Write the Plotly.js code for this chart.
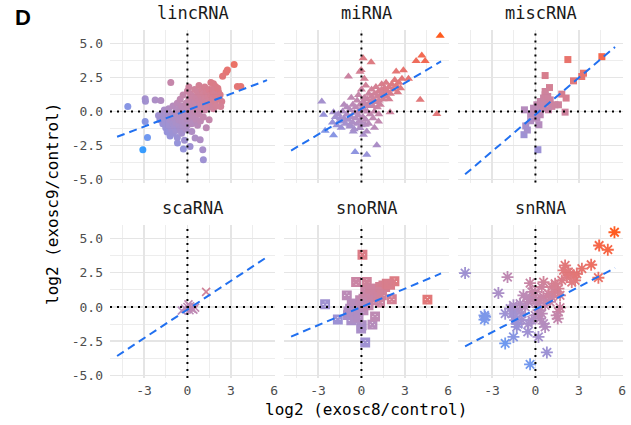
<!DOCTYPE html>
<html>
<head>
<meta charset="utf-8">
<script src="https://cdn.plot.ly/plotly-3.0.1.min.js"></script>
<style>html,body{margin:0;padding:0;background:#fff;}#chart{width:631px;height:425px;}</style>
</head>
<body>
<div id="chart"></div>
<script>
// ---------------- DATA ----------------
const panelNames = ["lincRNA", "miRNA", "miscRNA", "scaRNA", "snoRNA", "snRNA"];
const xTickVals = [-3, 0, 3, 6];
const xTickText = ["-3", "0", "3", "6"];
const yTickVals = [-5, -2.5, 0, 2.5, 5];
const yTickText = ["-5.0", "-2.5", "0.0", "2.5", "5.0"];
const xTitle = "log2 (exosc8/control)";
const yTitle = "log2 (exosc9/control)";
const panelLabel = "D";

const lincX = [-4.12,-3.08,-2.76,-2.92,-2.92,-2.9,-2.23,-1.84,-1.15,3.23,2.76,2.67,2.43,3.45,3.69,1.62,1.8,1.94,2.14,2.26,2.37,2.3,0.3,0.53,0.88,1.06,1.1,-0.69,-0.28,0.18,
 -2.0,-1.9,-1.8,-1.7,-1.6,-1.6,-1.5,-1.5,-1.4,-1.4,-1.3,-1.3,-1.2,-1.2,-1.1,-1.1,-1.0,-1.0,-1.0,-0.9,-0.9,-0.8,-0.8,-0.8,-0.7,-0.7,-0.7,-0.6,-0.6,-0.6,-0.5,-0.5,-0.5,-0.4,-0.4,-0.4,-0.3,-0.3,-0.3,-0.2,-0.2,-0.2,-0.1,-0.1,-0.1,0.0,0.0,0.0,0.0,
 0.1,0.1,0.1,0.2,0.2,0.2,0.3,0.3,0.3,0.4,0.4,0.4,0.5,0.5,0.5,0.6,0.6,0.6,0.7,0.7,0.7,0.8,0.8,0.8,0.9,0.9,0.9,1.0,1.0,1.0,1.1,1.1,1.1,1.2,1.2,1.2,1.3,1.3,1.3,1.4,1.4,1.5,1.5,1.5,1.6,1.6,1.7,1.7,1.8,1.8,1.9,2.0,2.0,2.1,2.2];
const lincY = [0.37,-2.8,-1.9,-0.73,0.93,0.74,0.84,0.8,2.12,3.43,3.04,2.87,2.58,1.83,1.83,2.12,2.02,1.83,1.46,1.22,0.73,0.37,-1.46,-1.94,-2.07,-2.8,-3.53,-2.3,-2.75,-2.56,
 -0.3,-0.6,-0.2,-0.9,-0.5,0.1,-1.2,-0.8,-0.3,-1.5,-1.0,0.2,-0.6,-1.8,-1.3,-0.2,-0.9,0.4,-1.6,-0.5,-1.1,0.0,-1.4,-0.8,-0.3,0.6,-1.9,-1.0,-0.6,0.2,-1.3,-0.1,0.9,-0.7,-1.6,0.4,-0.4,-1.1,1.2,0.1,-0.8,-2.1,0.6,-0.3,-1.3,1.5,0.3,-0.6,-1.0,
 0.9,-0.1,1.8,0.5,-0.5,1.3,0.1,0.8,-0.9,1.1,0.4,-0.3,1.6,0.7,0.0,1.0,-0.6,0.4,1.4,0.2,-1.0,0.8,1.9,-0.2,0.5,1.2,-0.7,1.6,0.2,0.9,1.3,-0.4,0.6,1.0,0.1,1.8,0.7,-1.2,1.4,0.3,1.1,0.8,1.6,-0.6,1.2,0.4,0.9,1.6,0.2,1.3,0.7,1.1,0.4,1.7,0.9];

const miX = [5.44,4.17,3.78,4.4,2.9,2.4,3.25,4.06,5.21,1.98,1.18,0.67,0.12,-0.02,-0.9,-2.74,-2.62,-1.93,-1.93,-2.51,-0.44,0.37,1.06,0.26,0.37,0.14,-0.1,-0.56,-0.79,-1.24,-1.47,
 -2.0,-1.8,-1.7,-1.6,-1.5,-1.4,-1.3,-1.2,-1.1,-1.0,-1.0,-0.9,-0.8,-0.8,-0.7,-0.6,-0.6,-0.5,-0.5,-0.4,-0.4,-0.3,-0.3,-0.2,-0.2,-0.2,-0.1,-0.1,0.0,0.0,0.0,0.1,0.1,0.2,0.2,0.3,0.3,0.3,0.4,0.4,0.5,0.5,0.6,0.6,0.7,0.7,0.8,0.8,0.9,0.9,1.0,1.0,1.1,1.1,1.2,1.2,1.3,1.3,1.4,1.4,1.5,1.5,1.6,1.7,1.7,1.8,1.9,1.9,2.0,2.1,2.2,2.3,2.4,2.5,2.6,2.7,2.8,0.2,-0.1,0.5,0.8,1.2,0.9,-1.2,-0.7];
const miY = [5.55,4.09,3.7,3.7,3.02,2.92,2.39,0.85,-0.19,-0.05,-0.73,3.6,3.9,3.04,2.56,0.73,-0.24,-0.05,-1.75,-1.41,-2.96,-3.16,-2.48,-0.97,-1.46,-1.7,-1.21,-1.46,-0.97,-0.73,-0.49,
 -0.8,-0.4,-1.0,-0.2,-0.7,-1.2,0.0,-0.5,-0.9,-0.2,0.3,-0.6,-1.1,0.1,-0.4,0.5,-0.8,-0.1,-1.3,0.3,-0.5,0.8,-0.9,0.0,1.2,-0.3,0.5,-0.7,0.2,1.6,-1.0,0.7,-0.4,1.0,0.1,0.5,-0.6,1.9,0.9,0.0,1.3,0.4,0.7,-0.2,1.1,1.6,0.4,0.9,1.3,0.0,0.7,1.8,1.1,0.3,1.5,0.8,1.2,0.5,1.6,2.0,0.9,1.3,1.7,1.1,2.1,1.5,1.8,0.9,1.3,2.0,1.6,2.3,1.9,1.4,2.1,1.7,2.4,2.4,2.9,-0.9,-0.5,-0.2,-1.2,0.5,1.0];

const miscX = [4.59,2.24,3.32,3.2,2.63,0.67,0.97,1.82,2.12,1.59,2.05,-0.76,0.17,-0.79,-0.67,-0.56,-0.33,-0.33,0.24,
 0.1,0.33,0.56,0.67,0.79,1.02,0.44,0.21,0.0,1.13,1.36,0.9,0.56,0.33,0.1,-0.13,0.67,0.85];
const miscY = [4.01,3.8,2.8,2.56,2.24,2.63,1.75,1.27,0.98,0.49,-0.05,0.12,-2.8,-1.7,-1.06,-1.36,-0.68,-0.19,-0.97,
 0.49,0.73,0.98,1.22,0.61,0.85,0.24,0.0,-0.12,0.37,0.49,0.12,0.49,-0.24,-0.49,0.24,1.46,1.1];

const scaX = [1.29,0.0,0.18,0.3,0.41,0.14,-0.16,0.53,0.07,-0.39,0.25];
const scaY = [1.1,0.0,0.05,-0.12,-0.19,-0.24,-0.12,-0.05,0.19,-0.27,-0.07];

const snoX = [0.07,-0.37,0.37,-1.01,-2.51,-1.63,4.56,2.1,2.28,1.98,1.64,1.41,0.26,0.02,-0.02,0.76,0.94,1.29,-0.93,-0.7,-0.47,
 -0.78,-0.55,-0.32,-0.09,0.14,0.37,0.6,0.83,1.06,1.29,1.52,-0.55,-0.2,0.02,0.26,0.49,0.72,0.94,1.17,-0.32,-0.67,-0.09,0.14,0.49,0.83,1.17,-0.9,-0.44,0.26,0.6,1.75,1.41,-0.2];
const snoY = [3.82,1.83,1.83,0.85,0.2,-0.92,0.54,0.56,1.88,1.63,1.46,1.22,-2.6,-1.34,-1.58,-1.29,-0.7,0.32,-0.6,-0.97,-0.85,
 -0.12,0.12,0.24,0.49,0.61,0.85,0.97,1.22,1.34,1.46,1.58,-0.36,-0.24,0.0,0.24,0.49,0.73,0.97,1.1,-0.12,0.24,0.12,-0.24,0.12,0.49,0.73,-0.32,-0.6,1.1,1.34,1.7,0.85,-0.73];

const snX = [5.46,4.4,5.0,-4.86,-1.93,-2.56,-3.52,-3.52,-3.48,-2.09,-1.52,-0.37,0.79,0.21,-0.53,-1.2,4.35,3.85,3.21,
 2.05,2.4,2.63,2.17,1.94,2.74,2.51,2.28,1.82,2.86,1.59,1.54,1.47,1.7,-0.37,-0.25,0.56,0.44,
 -2.09,-1.75,-1.52,-1.29,-1.06,-1.4,-0.94,-0.71,-0.48,-0.14,0.09,0.32,0.56,0.9,1.13,1.36,1.59,0.67,1.01,0.21,-0.02,-0.25,-0.48,-0.94,-1.29,0.32,0.56,0.67,-0.6,-0.02,-0.83,1.13,1.36,1.7,0.44,-1.4,-1.63];
const snY = [5.47,4.5,4.19,2.48,2.19,1.02,-0.61,-0.92,-0.73,-2.67,-2.19,-4.2,-3.33,-2.19,-1.82,-1.26,2.14,3.09,2.8,
 3.04,2.43,2.31,2.19,2.68,1.94,1.82,2.56,1.94,2.43,-0.36,-0.85,-0.61,-0.05,1.75,1.1,1.82,1.46,
 -0.49,-0.12,0.12,-0.24,0.24,-0.73,-0.49,0.0,0.37,0.61,0.24,0.49,0.73,0.97,0.73,1.1,1.34,0.12,0.37,-0.24,-0.61,-0.97,-1.22,-0.97,-1.46,-0.85,-1.22,-1.46,0.73,1.1,0.85,1.46,1.7,0.85,-0.49,-0.97,-0.49];

// fitted lm lines: slope, intercept per panel, common x span
const fitSlope = [0.40, 0.63, 0.90, 0.70, 0.446, 0.553];
const fitIntercept = [0.09, 0.20, -0.23, -0.19, 0.0, -0.19];
const fitXSpan = [-4.86, 5.5];

// ---------------- STYLE ----------------
const seriesX = [lincX, miX, miscX, scaX, snoX, snX];
const seriesY = [lincY, miY, miscY, scaY, snoY, snY];
const symbols = ["circle", "triangle-up", "square", "x-thin-open", "square-x-open", "asterisk-open"];
const sizes = [7, 8, 7, 8, 7.5, 10];
const lineW = [0, 0, 0, 1.6, 2.4, 1.8];

// Lab-interpolated colour scale (dodgerblue -> orangered)
function s2l(c){c/=255;return c<=0.04045?c/12.92:Math.pow((c+0.055)/1.055,2.4);}
function l2s(c){c=c<=0.0031308?12.92*c:1.055*Math.pow(c,1/2.4)-0.055;return Math.round(Math.max(0,Math.min(1,c))*255);}
function rgb2lab(r,g,b){const R=s2l(r),G=s2l(g),B=s2l(b);
 const X=(0.4124*R+0.3576*G+0.1805*B)/0.95047,Y=(0.2126*R+0.7152*G+0.0722*B),Z=(0.0193*R+0.1192*G+0.9505*B)/1.08883;
 const f=t=>t>0.008856?Math.cbrt(t):(7.787*t+16/116);
 return [116*f(Y)-16,500*(f(X)-f(Y)),200*(f(Y)-f(Z))];}
function lab2rgb(L,a,b){const fy=(L+16)/116,fx=fy+a/500,fz=fy-b/200;
 const fi=t=>{const t3=t*t*t;return t3>0.008856?t3:(t-16/116)/7.787;};
 const X=0.95047*fi(fx),Y=fi(fy),Z=1.08883*fi(fz);
 return [l2s(3.2406*X-1.5372*Y-0.4986*Z),l2s(-0.9689*X+1.8758*Y+0.0415*Z),l2s(0.0557*X-0.2040*Y+1.0570*Z)];}
const lowLab = rgb2lab(30,144,255), highLab = rgb2lab(255,69,0);
const cscale = [];
for (let i=0;i<=20;i++){const t=i/20;
 const c=lab2rgb(lowLab[0]+(highLab[0]-lowLab[0])*t,lowLab[1]+(highLab[1]-lowLab[1])*t,lowLab[2]+(highLab[2]-lowLab[2])*t);
 cscale.push([t,`rgb(${c[0]},${c[1]},${c[2]})`]);}

const colorVals = seriesX.map((xs,i)=>xs.map((x,j)=>(x+seriesY[i][j])/2));
const allC = colorVals.flat();
const cmin = Math.min(...allC), cmax = Math.max(...allC);

const W=631,H=425;
const colL=[110,284,458], colW=165;
const rowT=[29.5,225], rowH=153;
const mono="DejaVu Sans Mono";

const traces=[]; const layout={
 width:W,height:H,margin:{l:0,r:0,t:0,b:0},paper_bgcolor:"#fff",plot_bgcolor:"#fff",
 showlegend:false,hovermode:false,shapes:[],annotations:[]};

for (let p=0;p<6;p++){
 const r=Math.floor(p/3), c=p%3; const s=p===0?"":String(p+1);
 layout["xaxis"+s]={domain:[colL[c]/W,(colL[c]+colW)/W],range:[-5.35,6.05],anchor:"y"+s,
  tickvals:xTickVals,ticktext:xTickText,showticklabels:r===1,ticks:"",zeroline:false,showline:false,
  showgrid:true,gridcolor:"#E5E5E5",gridwidth:1.3,ticklabelstandoff:3,
  tickfont:{family:mono,size:13,color:"#4D4D4D"},
  minor:{tickvals:[-4.5,-1.5,1.5,4.5],showgrid:true,gridcolor:"#EDEDED",gridwidth:1}};
 layout["yaxis"+s]={domain:[1-(rowT[r]+rowH)/H,1-rowT[r]/H],range:[-5.2,6.0],anchor:"x"+s,
  tickvals:yTickVals,ticktext:yTickText,showticklabels:c===0,ticks:"",zeroline:false,showline:false,
  showgrid:true,gridcolor:"#E5E5E5",gridwidth:1.3,ticklabelstandoff:6,
  tickfont:{family:mono,size:13,color:"#4D4D4D"},
  minor:{tickvals:[-3.75,-1.25,1.25,3.75],showgrid:true,gridcolor:"#EDEDED",gridwidth:1}};
 traces.push({type:"scatter",mode:"markers",x:seriesX[p],y:seriesY[p],xaxis:"x"+s,yaxis:"y"+s,
  opacity:0.88,
  marker:{symbol:symbols[p],size:sizes[p],color:colorVals[p],colorscale:cscale,cmin:cmin,cmax:cmax,
   line:{width:lineW[p]},showscale:false}});
 const fx=[fitXSpan[0],fitXSpan[1]];
 traces.push({type:"scatter",mode:"lines",x:fx,y:fx.map(v=>fitIntercept[p]+fitSlope[p]*v),xaxis:"x"+s,yaxis:"y"+s,
  line:{color:"#2170F0",width:2,dash:"8px,5px"}});
 layout.shapes.push({type:"line",layer:"above",xref:"x"+s,yref:"y"+s+" domain",x0:0,x1:0,y0:0,y1:1,
  line:{color:"#000",width:2,dash:"2px,5px"}});
 layout.shapes.push({type:"line",layer:"above",xref:"x"+s+" domain",yref:"y"+s,x0:0,x1:1,y0:0,y1:0,
  line:{color:"#000",width:2,dash:"2px,5px"}});
 layout.annotations.push({text:panelNames[p],xref:"paper",yref:"paper",x:(colL[c]+colW/2)/W,
  y:1-(r===0?13:208)/H,xanchor:"center",yanchor:"middle",showarrow:false,
  font:{family:mono,size:17,color:"#1A1A1A"}});
}
layout.annotations.push({text:xTitle,xref:"paper",yref:"paper",x:366/W,y:1-409/H,xanchor:"center",yanchor:"middle",
 showarrow:false,font:{family:mono,size:16,color:"#000"}});
layout.annotations.push({text:yTitle,xref:"paper",yref:"paper",x:52/W,y:1-204/H,xanchor:"center",yanchor:"middle",
 textangle:-90,showarrow:false,font:{family:mono,size:16,color:"#000"}});
layout.annotations.push({text:"<b>"+panelLabel+"</b>",xref:"paper",yref:"paper",x:23/W,y:1-17/H,xanchor:"center",yanchor:"middle",
 showarrow:false,font:{family:"Liberation Sans",size:22,color:"#000"}});

Plotly.newPlot("chart",traces,layout,{displayModeBar:false,staticPlot:true});
</script>
</body>
</html>
